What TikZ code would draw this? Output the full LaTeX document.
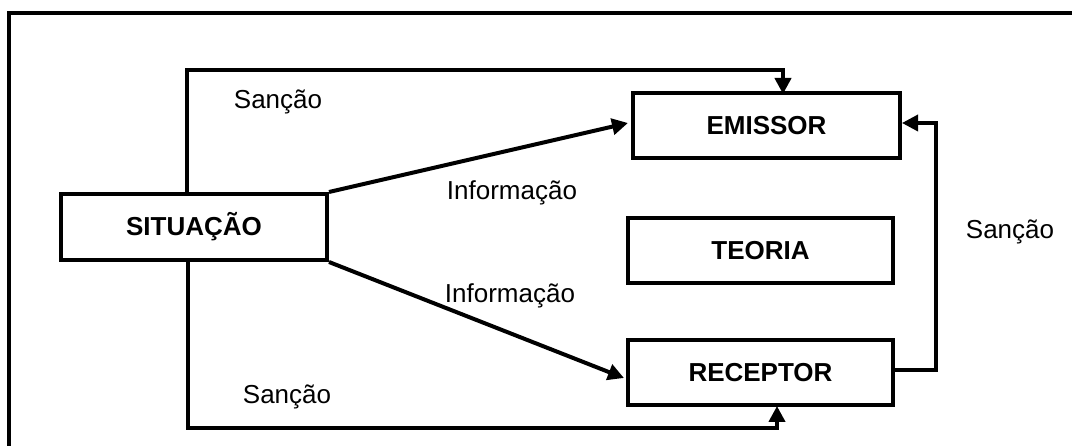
\documentclass[tikz,border=0pt]{standalone}
\usepackage{fontspec}
\setmainfont{Liberation Sans}
\usetikzlibrary{arrows.meta}
\begin{document}
\begin{tikzpicture}[x=1pt,y=-1pt,
  box/.style={draw,line width=4pt,inner sep=0pt,font=\fontsize{26}{30}\selectfont\bfseries},
  link/.style={line width=4pt,-{Triangle[length=16pt,width=16pt]}},
  lbl/.style={font=\fontsize{26}{30}\selectfont,inner sep=0pt}]
\useasboundingbox (0,0) rectangle (1072,446);
% frame
\draw[line width=4pt] (9,446) -- (9,13) -- (1080,13);
% boxes
\node[box,minimum width=266pt,minimum height=66pt] (sit) at (194,227) {SITUAÇÃO};
\node[box,minimum width=267pt,minimum height=65pt] (emi) at (766.5,125.5) {EMISSOR};
\node[box,minimum width=265pt,minimum height=65pt] (teo) at (760.5,250.5) {TEORIA};
\node[box,minimum width=265pt,minimum height=65pt] (rec) at (760.5,372.5) {RECEPTOR};
% bend points
\coordinate (tl) at (187,70);
\coordinate (tr) at (783,70);
\coordinate (bl) at (188,428);
\coordinate (br) at (777,428);
\coordinate (rr) at (936,370);
\coordinate (ru) at (936,123);
% connectors
\draw[link] (sit.north -| tl) -- (tl) -- (tr) -- ([yshift=-3pt]emi.north -| tr);
\draw[link] (sit.south -| bl) -- (bl) -- (br) -- ([yshift=1pt]rec.south -| br);
\draw[link] (sit.north east) -- ([xshift=-3pt]emi.west |- 0,123);
\draw[link] (sit.south east) -- ([xshift=-2pt]rec.west |- 0,378);
\draw[link,line width=3.5pt] (rec.east |- rr) -- (rr) -- (ru) -- (emi.east |- ru);
% labels
\node[lbl] (s1) at (278,102) {Sanção};
\node[lbl] (i1) at (512,193) {Informação};
\node[lbl] (i2) at (510,296) {Informação};
\node[lbl] (s2) at (1010,232) {Sanção};
\node[lbl] (s3) at (287,397) {Sanção};
\end{tikzpicture}
\end{document}
